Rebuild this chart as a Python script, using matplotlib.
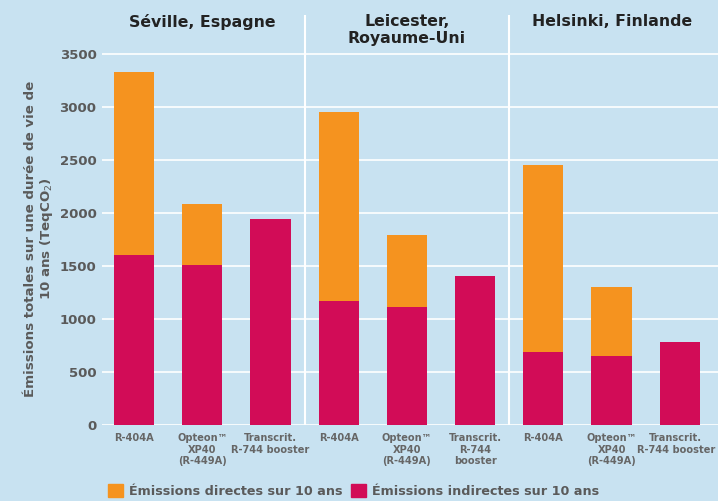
import numpy as np
import matplotlib.pyplot as plt
import matplotlib.transforms as mtransforms
from matplotlib.patches import Patch

# --- données (TeqCO2 sur 10 ans) ---
villes = ["Séville, Espagne", "Leicester,\nRoyaume-Uni", "Helsinki, Finlande"]
refrigerants = ["R-404A", "Opteon™\nXP40\n(R-449A)", "Transcrit.\nR-744 booster",
                "R-404A", "Opteon™\nXP40\n(R-449A)", "Transcrit.\nR-744\nbooster",
                "R-404A", "Opteon™\nXP40\n(R-449A)", "Transcrit.\nR-744 booster"]
totales = [3330, 2090, 1940, 2950, 1790, 1410, 2450, 1300, 780]
indirectes = [1600, 1510, 1940, 1170, 1110, 1410, 690, 650, 780]
directes = [t - i for t, i in zip(totales, indirectes)]

# --- style ---
fond = "#c8e2f1"
orange = "#f5931f"
magenta = "#d20c57"
gris = "#5a5a5a"

fig = plt.figure(figsize=(7.18, 5.01), dpi=100, facecolor=fond)
ax = fig.add_axes([102 / 718, 76 / 501, 616 / 718, 410 / 501], facecolor=fond)

x = np.arange(len(totales))
ax.bar(x, indirectes, width=0.59, color=magenta, zorder=2)
ax.bar(x, directes, width=0.59, bottom=indirectes, color=orange, zorder=2)

ax.set_xlim(-0.47, 8.56)
ax.set_ylim(0, 3870)
for yv in range(0, 3501, 500):
    ax.axhline(yv, color="white", lw=1.2, zorder=1)
for xs in [2.5, 5.5]:
    ax.axvline(xs, color="white", lw=1.5, zorder=1)

ax.set_yticks(range(0, 3501, 500))
ax.set_yticklabels([str(v) for v in range(0, 3501, 500)],
                   fontsize=9.5, fontweight="bold", color=gris)
ax.set_xticks(x)
ax.set_xticklabels(refrigerants, fontsize=7.1, fontweight="bold", color="#666666",
                   linespacing=1.15, va="top")
ax.tick_params(axis="both", length=0)
ax.tick_params(axis="y", pad=4)
ax.tick_params(axis="x", pad=6)
for s in ax.spines.values():
    s.set_visible(False)

# dernier libellé légèrement décalé pour rester dans l'image
dernier = ax.get_xticklabels()[-1]
dernier.set_transform(dernier.get_transform() +
                      mtransforms.ScaledTranslation(-4 / 100, 0, fig.dpi_scale_trans))

ax.set_ylabel("Émissions totales sur une durée de vie de\n10 ans (TeqCO$_2$)",
              fontsize=9.6, fontweight="bold", color=gris, linespacing=1.1)
ax.yaxis.set_label_coords(-0.076, 0.455)

# titres des villes
for i, v in enumerate(villes):
    ax.text(3 * i + 1, 3880, v, ha="center", va="top", fontsize=11.3,
            fontweight="bold", color="#222222", linespacing=1.15)

# légende
handles = [Patch(color=orange, label="Émissions directes sur 10 ans"),
           Patch(color=magenta, label="Émissions indirectes sur 10 ans")]
fig.legend(handles=handles, loc="lower left", bbox_to_anchor=(96 / 718, -0.016),
           ncol=2, frameon=False, handlelength=1.2, handleheight=1.2,
           handletextpad=0.45, columnspacing=0.7,
           prop={"weight": "bold", "size": 9.2}, labelcolor=gris)

plt.savefig("out.png", dpi=100, facecolor=fond)
